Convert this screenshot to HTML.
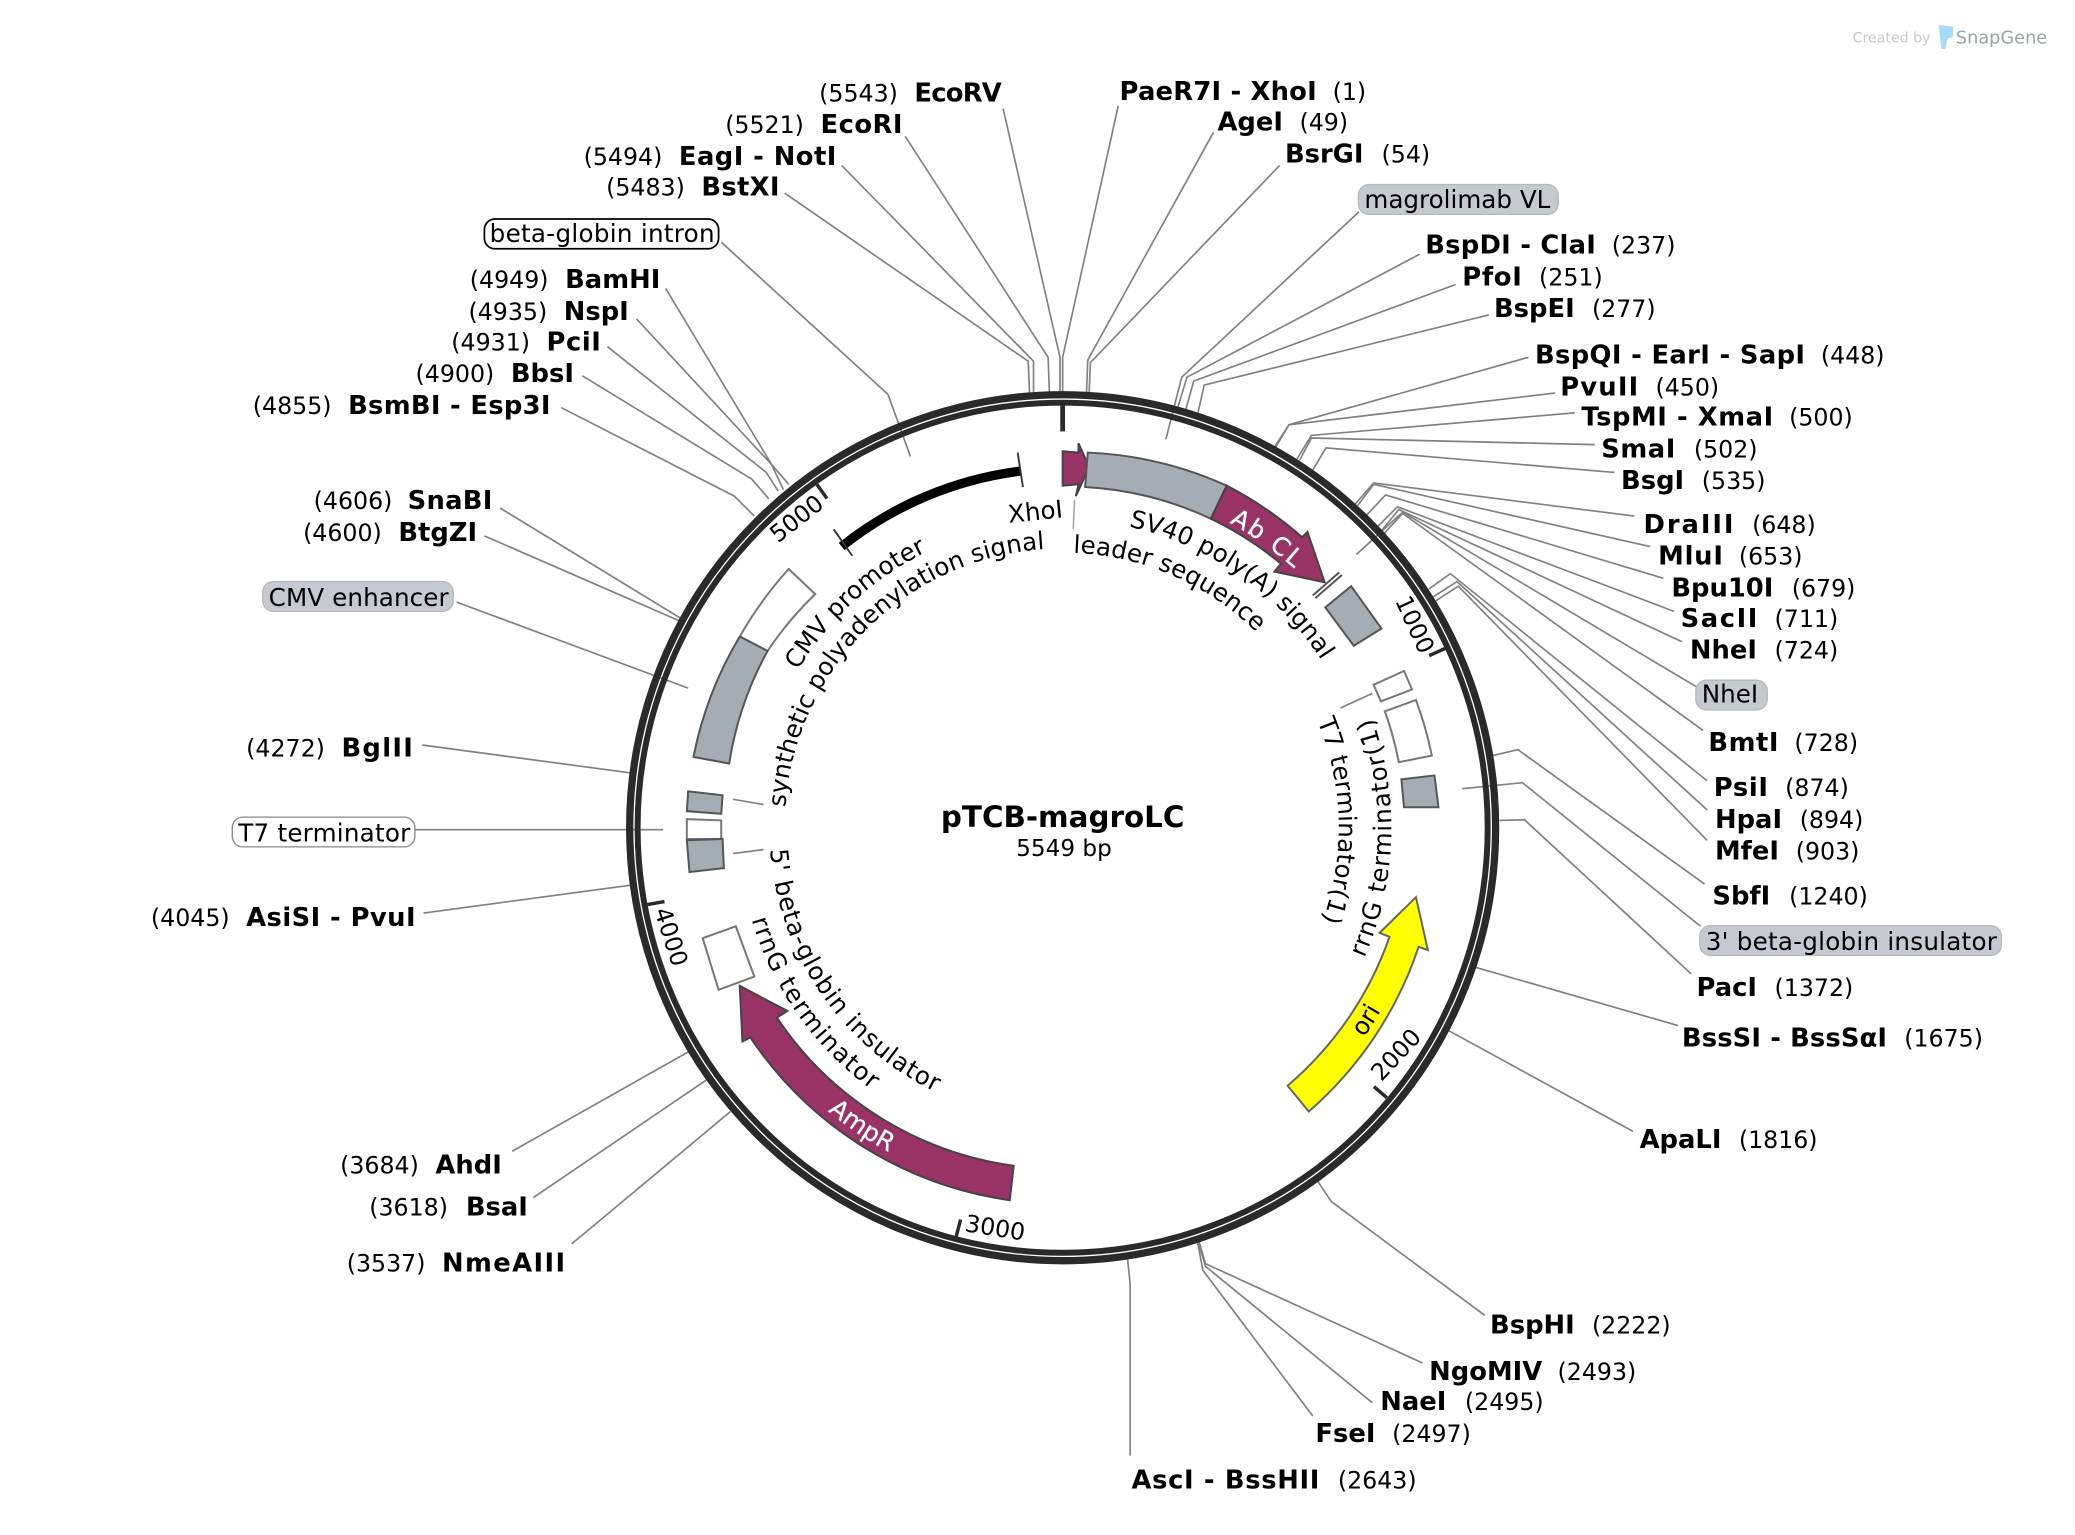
<!DOCTYPE html>
<html><head><meta charset="utf-8"><style>
html,body{margin:0;padding:0;background:#fff}
svg{display:block}
text{font-family:"DejaVu Sans","Liberation Sans",sans-serif;fill:#000}
.n{font-weight:700;font-size:19.5px}
.p{font-size:17.9px}
.t{font-size:18.6px}
.l{fill:none;stroke:#808080;stroke-width:1.25}
.f{stroke:#555;stroke-width:1.5;stroke-linejoin:miter}
.g{fill:#a6acb4}.w{fill:#fff;stroke:#777}.m{fill:#993366;stroke:#444}
</style></head><body>
<svg xmlns="http://www.w3.org/2000/svg" width="2075" height="1535" viewBox="0 0 1568 1160">
<defs>
<path id="a1" d="M593.5,610 A210,210 0 0 1 1013,625.5"/>
<path id="a2" d="M603,506.5 A233,233 0 0 1 1036,625.5"/>
<path id="a3" d="M853,398 A233,233 0 0 1 1036,625.5"/>
<path id="a4" d="M811,417.7 A208,208 0 0 1 1011,625.5"/>
<path id="a5" d="M995.5,545 A208.7,208.7 0 0 1 803,834.2"/>
<path id="a6" d="M1031,724 A248.4,248.4 0 0 0 803,377.1"/>
<path id="a7" d="M582,642 A221.6,221.6 0 0 0 803,847.1"/>
<path id="a8" d="M568,695 A245,245 0 0 0 803,870.5"/>
<path id="a9" d="M929,395 A262.8,262.8 0 0 1 1065.8,625.5"/>
<path id="a10" d="M625.6,839.6 A278,278 0 0 0 803,903.5"/>
<path id="a11" d="M1030.7,784 A277,277 0 0 0 803,348.5"/>
</defs>

<g class="l">
<polyline points="758,82 801,270 801,297"/>
<polyline points="684,103 792,270 793,297"/>
<polyline points="636,125 781,273 781,297"/>
<polyline points="593,146 777,273 778,297"/>
<polyline points="845,80 803,270 803,297"/>
<polyline points="917,100 822,272 821,297"/>
<polyline points="967,125 824,274 823,297"/>
<polyline points="1027,160 893,285 881,332"/>
<polyline points="1073,192 897,285 890,308"/>
<polyline points="1100,215 902,288 896,310"/>
<polyline points="1125,238 910,291 905,313"/>
<polyline points="1155,270 974,321 963,338"/>
<polyline points="1175,297 974,321 964,338"/>
<polyline points="1190,312 991,329 980,347"/>
<polyline points="1205,336 991,331 982,348"/>
<polyline points="1220,357 1002,338.5 992,355"/>
<polyline points="1235,390 1038,365 1024,381"/>
<polyline points="1247,413 1038,366 1026,382"/>
<polyline points="1257,437 1047,374 1033,389"/>
<polyline points="1265,462 1056,383 1041,398"/>
<polyline points="1271,485 1057,385 1044,401"/>
<polyline points="1282,519 1060,387 1025,419"/>
<polyline points="1287,552 1060,388 1046,403"/>
<polyline points="1290,590 1096,433.5 1080,445"/>
<polyline points="1290,612 1101,439.5 1083,451"/>
<polyline points="1290,635 1102,443 1085,454"/>
<polyline points="1288,668 1147,566.5 1128,571"/>
<polyline points="1285,700 1150.5,591.5 1105,596"/>
<polyline points="1278,736 1152,619.5 1133,620"/>
<polyline points="1115,731 1268,775"/>
<polyline points="1095,779 1234,855"/>
<polyline points="996,893 1006,908 1122,994"/>
<polyline points="906,938 911,955 1075,1030"/>
<polyline points="905.5,939 911,957 1037,1060"/>
<polyline points="905,939 909,960 992,1070"/>
<polyline points="852,951 854,970 854,1100"/>
<polyline points="552,840 432,940"/>
<polyline points="534,816 403,905"/>
<polyline points="520,795 387,870"/>
<polyline points="476,669 320,690"/>
<polyline points="314,627 501,627"/>
<polyline points="476,584 319,563"/>
<polyline points="345,455 520,520"/>
<polyline points="513,469 366,405"/>
<polyline points="514,467 378,384"/>
<polyline points="570,390 555,375 424,308"/>
<polyline points="581,377 568,362 440,284"/>
<polyline points="588,371 579,357 459,262"/>
<polyline points="592,370 583,351 481,241"/>
<polyline points="596,366 583,351 503,218"/>
<polyline points="545,183 671,298 688,345"/>
<polyline points="1037,524 1013,535"/>
<polyline points="554,604 577,608"/>
<polyline points="554,645 577,642"/>
<polyline points="812,378 811,400" style="stroke:#aaa"/>
</g>

<circle cx="803" cy="625.5" r="327.2" fill="none" stroke="#2a2a2a" stroke-width="5.5"/>
<circle cx="803" cy="625.5" r="321.2" fill="none" stroke="#2a2a2a" stroke-width="4.5"/>
<g stroke="#2a2a2a" stroke-width="2.6">
<line x1="803" y1="306" x2="803" y2="326" stroke-width="3.6"/>
<line x1="1092" y1="490" x2="1080" y2="495.5"/>
<line x1="1048" y1="829.5" x2="1038.3" y2="821.2"/>
<line x1="722.6" y1="934.2" x2="725.9" y2="921.6"/>
<line x1="489.3" y1="683.6" x2="502.1" y2="681.3"/>
<line x1="617.3" y1="366.1" x2="624.9" y2="376.7"/>
</g>

<path d="M636,413 A270,270 0 0 1 771,356" fill="none" stroke="#000" stroke-width="7"/>
<line x1="769" y1="342" x2="773" y2="368" stroke="#333" stroke-width="1.4"/>
<line x1="630" y1="400" x2="644" y2="420" stroke="#333" stroke-width="1.4"/>

<path class="f m" d="M803,341 L815,342 L815,335 L823,353 L813,375 L815,366 L803,367 Z"/>
<path class="f g" d="M822,342 A284,284 0 0 1 927,367 L915,392 A258,258 0 0 0 820,368 Z"/>
<path class="f m" d="M927,367 A284,284 0 0 1 984,406 L988,402 L1001,440 L963,432 L968,426 A258,258 0 0 0 915,392 Z"/>
<line x1="992" y1="450" x2="1012" y2="432.5" stroke="#555" stroke-width="1.5"/>
<line x1="994" y1="452" x2="1014" y2="434.5" stroke="#555" stroke-width="1.5"/>
<path class="f g" d="M1001.5,459 L1021,443 L1044,475 L1023,488 Z"/>
<path class="f w" d="M1038,517.5 L1061,507 L1067,521 L1043.5,530 Z"/>
<path class="f w" d="M1046.5,537.5 L1070,529 A284,284 0 0 1 1082,571 L1057,576 A258,258 0 0 0 1046.5,537.5 Z"/>
<path class="f g" d="M1059,589 L1084,586 L1087,610 L1061,610 Z"/>

<path class="f" style="fill:#ffff00;stroke:#666" d="M989,840 A284,284 0 0 0 1072,715.5 L1079,718 L1070,678 L1042.5,705 L1050,708 A260,260 0 0 1 973,820.5 Z"/>
<path class="f m" d="M763,907 A284,284 0 0 1 567,784 L561,787 L559,745 L595,764 L587,769 A258,258 0 0 0 766,881 Z"/>
<path class="f w" d="M531,709 L556,700 L570,738 L543,748 Z"/>

<path class="f g" d="M520,598 L546,601 L545,615 L519,613 Z"/>
<path class="f w" d="M519,619 L545,620 L545,634 L519,634 Z"/>
<path class="f g" d="M519,635 L546,634 L547,656 L521,659 Z"/>

<path class="f w" d="M596,430 L616,449 A258,258 0 0 0 580,492 L559,481 A284,284 0 0 1 596,430 Z"/>
<path class="f g" d="M559,481 L580,492 A258,258 0 0 0 551,577 L524,572 A284,284 0 0 1 559,481 Z"/>

<text class="t"><textPath href="#a1">synthetic polyadenylation signal</textPath></text>
<text class="t"><textPath href="#a2">CMV promoter</textPath></text>
<text class="t"><textPath href="#a3">SV40 poly(A) signal</textPath></text>
<text class="t"><textPath href="#a4">leader sequence</textPath></text>
<text class="t"><textPath href="#a5">T7 terminator(1)</textPath></text>
<text class="t"><textPath href="#a6" textLength="186">rrnG terminator(1)</textPath></text>
<text class="t"><textPath href="#a7" textLength="232">5' beta-globin insulator</textPath></text>
<text class="t"><textPath href="#a8" textLength="160">rrnG terminator</textPath></text>
<text class="t" style="fill:#fff;stroke:#fff;stroke-width:.25"><textPath href="#a9" style="fill:#fff" textLength="60">Ab CL</textPath></text>
<text class="t" style="fill:#fff;stroke:#fff;stroke-width:.25"><textPath href="#a10" style="fill:#fff">AmpR</textPath></text>
<text class="t"><textPath href="#a11">ori</textPath></text>
<text class="t" transform="translate(783,393) rotate(-5.8)" text-anchor="middle">XhoI</text>

<g class="p" text-anchor="middle">
<text transform="translate(1069,472) rotate(65)" dy="6">1000</text>
<text transform="translate(1055,797) rotate(-47)" dy="6">2000</text>
<text transform="translate(752,928) rotate(9)" dy="6">3000</text>
<text transform="translate(507,708) rotate(72)" dy="6">4000</text>
<text transform="translate(602,392) rotate(-38)" dy="6">5000</text>
</g>

<text x="803" y="625" text-anchor="middle" style="font-weight:700;font-size:22.2px">pTCB-magroLC</text>
<text x="804" y="647" text-anchor="middle" style="font-size:17.5px">5549 bp</text>

<rect x="1026.5" y="139.5" width="151" height="22.5" rx="8" fill="#c6cad0" stroke="#b5b9bf"/>
<text class="t" x="1031" y="157">magrolimab VL</text>
<rect x="1281.5" y="514" width="54" height="22.5" rx="8" fill="#c6cad0" stroke="#b5b9bf"/>
<text class="t" x="1286" y="531">NheI</text>
<rect x="1284.5" y="699.5" width="228" height="22.5" rx="8" fill="#c6cad0" stroke="#b5b9bf"/>
<text class="t" x="1289" y="718" textLength="220">3' beta-globin insulator</text>
<rect x="175.5" y="617.5" width="138" height="22.5" rx="8" fill="#fff" stroke="#888"/>
<text class="t" x="180" y="636" textLength="130">T7 terminator</text>
<rect x="198.5" y="439.5" width="144" height="22.5" rx="8" fill="#c6cad0" stroke="#b5b9bf"/>
<text class="t" x="203" y="458" textLength="136">CMV enhancer</text>
<rect x="366" y="165.5" width="177" height="22.5" rx="8" fill="#fff" stroke="#000" stroke-width="1.3"/>
<text class="t" x="370" y="183" textLength="170">beta-globin intron</text>

<g transform="translate(0,.7)">
<text class="p" x="619" y="76">(5543)</text><text class="n" x="691" y="76" textLength="66">EcoRV</text>
<text class="p" x="548" y="100">(5521)</text><text class="n" x="620" y="100" textLength="62">EcoRI</text>
<text class="p" x="441" y="124">(5494)</text><text class="n" x="513" y="124" textLength="119">EagI - NotI</text>
<text class="p" x="458" y="147">(5483)</text><text class="n" x="530" y="147" textLength="59">BstXI</text>
<text class="n" x="846" y="75" textLength="149">PaeR7I - XhoI</text><text class="p" x="1007" y="75">(1)</text>
<text class="n" x="920" y="98">AgeI</text><text class="p" x="982" y="98">(49)</text>
<text class="n" x="971" y="122">BsrGI</text><text class="p" x="1044" y="122">(54)</text>
<text class="n" x="1077" y="191" textLength="129">BspDI - ClaI</text><text class="p" x="1218" y="191">(237)</text>
<text class="n" x="1105" y="215" textLength="45">PfoI</text><text class="p" x="1163" y="215">(251)</text>
<text class="n" x="1129" y="239">BspEI</text><text class="p" x="1203" y="239">(277)</text>
<text class="n" x="1160" y="274" textLength="204">BspQI - EarI - SapI</text><text class="p" x="1376" y="274">(448)</text>
<text class="n" x="1179" y="298" textLength="59">PvuII</text><text class="p" x="1251" y="298">(450)</text>
<text class="n" x="1195" y="321" textLength="145">TspMI - XmaI</text><text class="p" x="1352" y="321">(500)</text>
<text class="n" x="1210" y="345" textLength="56">SmaI</text><text class="p" x="1280" y="345">(502)</text>
<text class="n" x="1225" y="369">BsgI</text><text class="p" x="1286" y="369">(535)</text>
<text class="n" x="1242" y="402" textLength="68">DraIII</text><text class="p" x="1324" y="402">(648)</text>
<text class="n" x="1253" y="426" textLength="49">MluI</text><text class="p" x="1314" y="426">(653)</text>
<text class="n" x="1263" y="450">Bpu10I</text><text class="p" x="1354" y="450">(679)</text>
<text class="n" x="1270" y="473" textLength="58">SacII</text><text class="p" x="1341" y="473">(711)</text>
<text class="n" x="1277" y="497">NheI</text><text class="p" x="1341" y="497">(724)</text>
<text class="n" x="1291" y="567" textLength="53">BmtI</text><text class="p" x="1356" y="567">(728)</text>
<text class="n" x="1295" y="601" textLength="41">PsiI</text><text class="p" x="1349" y="601">(874)</text>
<text class="n" x="1296" y="625">HpaI</text><text class="p" x="1360" y="625">(894)</text>
<text class="n" x="1296" y="649">MfeI</text><text class="p" x="1357" y="649">(903)</text>
<text class="n" x="1294" y="683">SbfI</text><text class="p" x="1352" y="683">(1240)</text>
<text class="n" x="1282" y="752">PacI</text><text class="p" x="1341" y="752">(1372)</text>
<text class="n" x="1271" y="790" textLength="155">BssSI - BssSαI</text><text class="p" x="1439" y="790">(1675)</text>
<text class="n" x="1239" y="867">ApaLI</text><text class="p" x="1314" y="867">(1816)</text>
<text class="n" x="1126" y="1007">BspHI</text><text class="p" x="1203" y="1007">(2222)</text>
<text class="n" x="1080" y="1042">NgoMIV</text><text class="p" x="1177" y="1042">(2493)</text>
<text class="n" x="1043" y="1065">NaeI</text><text class="p" x="1107" y="1065">(2495)</text>
<text class="n" x="994" y="1089">FseI</text><text class="p" x="1052" y="1089">(2497)</text>
<text class="n" x="855" y="1124" textLength="142">AscI - BssHII</text><text class="p" x="1011" y="1124">(2643)</text>
<text class="p" x="262" y="960">(3537)</text><text class="n" x="334" y="960" textLength="93">NmeAIII</text>
<text class="p" x="279" y="918">(3618)</text><text class="n" x="352" y="918">BsaI</text>
<text class="p" x="257" y="886">(3684)</text><text class="n" x="329" y="886">AhdI</text>
<text class="p" x="114" y="699">(4045)</text><text class="n" x="186" y="699" textLength="128">AsiSI - PvuI</text>
<text class="p" x="186" y="571">(4272)</text><text class="n" x="258" y="571" textLength="54">BglII</text>
<text class="p" x="229" y="408">(4600)</text><text class="n" x="301" y="408">BtgZI</text>
<text class="p" x="237" y="384">(4606)</text><text class="n" x="308" y="384" textLength="64">SnaBI</text>
<text class="p" x="191" y="312">(4855)</text><text class="n" x="263" y="312" textLength="153">BsmBI - Esp3I</text>
<text class="p" x="314" y="288">(4900)</text><text class="n" x="386" y="288">BbsI</text>
<text class="p" x="341" y="264">(4931)</text><text class="n" x="413" y="264" textLength="41">PciI</text>
<text class="p" x="354" y="241">(4935)</text><text class="n" x="426" y="241">NspI</text>
<text class="p" x="355" y="217">(4949)</text><text class="n" x="427" y="217" textLength="72">BamHI</text>
</g>

<text x="1400" y="32" style="font-size:10.7px;fill:#c8c8c8">Created by</text>
<path d="M1465,19 L1476,20 L1476,28 L1472,29 L1470,37 L1467,37 Z" fill="#a5dcf7"/>
<text x="1478" y="33" style="font-size:13.4px;fill:#9aa3ad">SnapGene</text>
</svg>
</body></html>
